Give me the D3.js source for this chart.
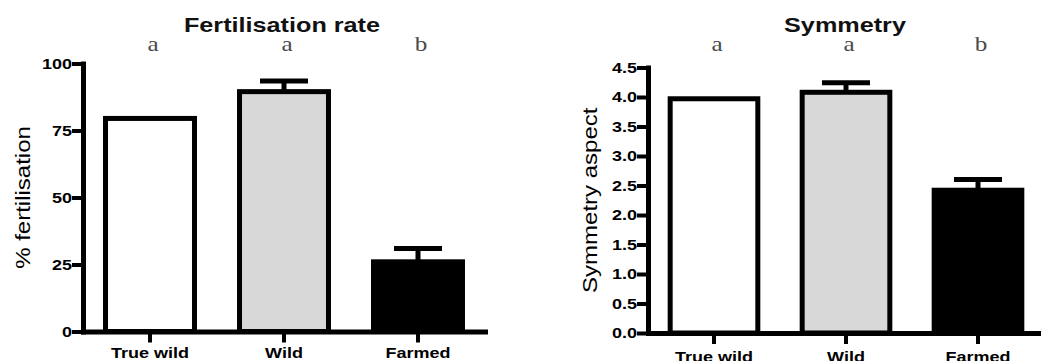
<!DOCTYPE html>
<html>
<head>
<meta charset="utf-8">
<script src="https://cdn.jsdelivr.net/npm/d3@7"></script>
<style>
  html, body { margin: 0; padding: 0; background: #ffffff; }
  svg { display: block; }
</style>
</head>
<body>
<svg id="chart" width="1041" height="361"></svg>
<script>
// ---- data ----
const categories = ["True wild", "Wild", "Farmed"];
const fertMeans = [79.5, 89.5, 26];
const fertErrors = [0, 4, 5];
const symMeans = [3.97, 4.08, 2.42];
const symErrors = [0, 0.16, 0.18];
const sigLetters = ["a", "a", "b"];
const fertTicks = [0, 25, 50, 75, 100];
const symTicks = [0, 0.5, 1, 1.5, 2, 2.5, 3, 3.5, 4, 4.5];
const barFills = ["#ffffff", "#d8d8d8", "#000000"];

const svg = d3.select("#chart");
const STRETCH = 1.2;
function stretch(sel, k) {
  sel.each(function () {
    const L = this.getComputedTextLength();
    this.setAttribute("textLength", L * (k || STRETCH));
    this.setAttribute("lengthAdjust", "spacingAndGlyphs");
  });
}

function panel(cfg) {
  const x = d3.scaleBand().domain(categories).range(cfg.xRange)
    .paddingInner(0.336).paddingOuter(0.168);
  const y = d3.scaleLinear().domain(cfg.yDomain).range(cfg.yRange);
  const g = svg.append("g");
  const rows = categories.map((c, i) => ({ c, v: cfg.means[i], e: cfg.errors[i], fill: barFills[i], letter: sigLetters[i] }));

  // error bars (drawn before bars so the lower half hides inside)
  const eb = g.append("g").selectAll("g").data(rows.filter(d => d.e > 0)).join("g");
  eb.append("line")
    .attr("x1", d => x(d.c) + x.bandwidth() / 2).attr("x2", d => x(d.c) + x.bandwidth() / 2)
    .attr("y1", d => y(d.v)).attr("y2", d => y(d.v + d.e))
    .attr("stroke", "#000").attr("stroke-width", 5);
  eb.append("line")
    .attr("x1", d => x(d.c) + x.bandwidth() / 2 - 24).attr("x2", d => x(d.c) + x.bandwidth() / 2 + 24)
    .attr("y1", d => y(d.v + d.e)).attr("y2", d => y(d.v + d.e))
    .attr("stroke", "#000").attr("stroke-width", 5);

  // bars
  g.append("g").selectAll("rect").data(rows).join("rect")
    .attr("x", d => x(d.c)).attr("width", x.bandwidth())
    .attr("y", d => y(d.v)).attr("height", d => y(cfg.yDomain[0]) - y(d.v))
    .attr("fill", d => d.fill).attr("stroke", "#000").attr("stroke-width", 5);

  // y axis
  const ya = g.append("g").attr("transform", `translate(${cfg.xRange[0]},0)`)
    .call(d3.axisLeft(y).tickValues(cfg.ticks).tickFormat(cfg.fmt).tickSize(11).tickSizeOuter(0).tickPadding(0));
  ya.select(".domain").attr("stroke-width", 5).attr("stroke-linecap", "square");
  ya.selectAll(".tick line").attr("stroke-width", 4);
  ya.selectAll(".tick text").attr("font-family", "Liberation Sans, Arial, sans-serif")
    .attr("font-size", 15).attr("font-weight", "bold").attr("fill", "#000").call(stretch);

  // x axis
  const xa = g.append("g").attr("transform", `translate(0,${y(cfg.yDomain[0])})`)
    .call(d3.axisBottom(x).tickSize(11).tickSizeOuter(0));
  xa.select(".domain").attr("stroke-width", 5).attr("stroke-linecap", "square");
  xa.selectAll(".tick line").attr("stroke-width", 4);
  xa.selectAll(".tick text").attr("font-family", "Liberation Sans, Arial, sans-serif")
    .attr("font-size", 15).attr("font-weight", "bold").attr("fill", "#000")
    .attr("dy", null).attr("y", cfg.xLabelY).call(stretch);

  // y axis label
  const cy = (cfg.yRange[0] + cfg.yRange[1]) / 2;
  g.append("text")
    .attr("transform", `translate(${cfg.yLabelX},${cy}) rotate(-90)`)
    .attr("text-anchor", "middle")
    .attr("font-family", "Liberation Sans, Arial, sans-serif").attr("font-size", 20)
    .attr("fill", "#000").text(cfg.yLabel).call(stretch);

  // title
  g.append("text").attr("x", cfg.titleX).attr("y", 32).attr("text-anchor", "middle")
    .attr("font-family", "Liberation Sans, Arial, sans-serif").attr("font-size", 21)
    .attr("font-weight", "bold").attr("fill", "#111").text(cfg.title).call(stretch);

  // significance letters
  g.append("g").selectAll("text").data(rows).join("text")
    .attr("x", d => x(d.c) + x.bandwidth() / 2 + 3).attr("y", 51).attr("text-anchor", "middle")
    .attr("font-family", "Liberation Serif, Times New Roman, serif").attr("font-size", 21)
    .attr("fill", "#4a4a4a").text(d => d.letter).call(stretch);
}

panel({
  xRange: [83, 485], yDomain: [0, 100], yRange: [331.5, 63.5],
  means: fertMeans, errors: fertErrors, ticks: fertTicks, fmt: d3.format("d"),
  yLabel: "% fertilisation", yLabelX: 30, title: "Fertilisation rate", titleX: 282, xLabelY: 26.5
});
panel({
  xRange: [648, 1044], yDomain: [0, 4.5], yRange: [333, 67.5],
  means: symMeans, errors: symErrors, ticks: symTicks, fmt: d3.format(".1f"),
  yLabel: "Symmetry aspect", yLabelX: 597, title: "Symmetry", titleX: 845, xLabelY: 29
});
</script>
</body>
</html>
